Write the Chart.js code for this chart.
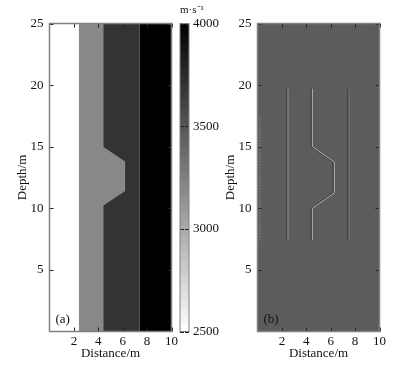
<!DOCTYPE html>
<html>
<head>
<meta charset="utf-8">
<script src="https://cdn.jsdelivr.net/npm/chart.js@4.4.0/dist/chart.umd.min.js"></script>
<style>
  body { margin: 0; background: #fff; }
  #wrap { position: relative; width: 396px; height: 365px; }
  canvas { position: absolute; top: 0; }
</style>
</head>
<body>
<div id="wrap">
  <canvas id="modelChart" width="180" height="365" style="left:0px"></canvas>
  <canvas id="colorBar" width="60" height="365" style="left:175px"></canvas>
  <canvas id="imageChart" width="180" height="365" style="left:208px"></canvas>
</div>
<script>
// axis ticks
const distTicks = [2, 4, 6, 8, 10];
const depthTicks = [5, 10, 15, 20, 25];
const velTicks = [2500, 3000, 3500, 4000];
const depthMax = 25;
const distMax = 10;

// (a) velocity model, vertical layers
const layerEdges = [0, 2.4, 4.4, 7.4, 10];
const layerVel = [2500, 3200, 3700, 4000];
// bulge of the 2nd layer into the 3rd
const bumpX = [4.4, 6.2, 6.2, 4.4];
const bumpDepth = [10.2, 11.4, 13.8, 15];

// (b) imaged edges
const edgeX = [2.5, 4.5, 7.5];
const edgeAmp = [0.33, 0.5, 0.16];
const edgeDepth = [7.4, 19.7];   // bottom, top
const edgeBumpX = [4.5, 6.3, 6.3, 4.5];
const edgeBumpDepth = [10, 11.25, 13.75, 15];
const sideX = 0.2;
const sideDepth = [7.4, 17.4];
const sideAmp = 0.35;

const velMin = velTicks[0], velMax = velTicks[velTicks.length - 1];
function velToGrey(v) {
  const g = Math.round(255 * (1 - (v - velMin) / (velMax - velMin)));
  return `rgb(${g},${g},${g})`;
}
function ampToGrey(a) {
  const g = Math.round(92 + a * (255 - 92));
  return `rgb(${g},${g},${g})`;
}

Chart.defaults.font.family = '"Liberation Serif", "Times New Roman", serif';
Chart.defaults.font.size = 13;
Chart.defaults.color = '#111';

// frame + inward ticks + panel tag
const frame = {
  id: 'frame',
  afterDraw(chart, args, opts) {
    const {ctx, chartArea: a, scales} = chart;
    ctx.save();
    ctx.strokeStyle = '#222';
    ctx.lineWidth = 1;
    const len = opts.tickLen || 4;
    ctx.beginPath();
    if (opts.ticksX !== false) {
      scales.x.ticks.forEach(t => {
        const px = Math.round(scales.x.getPixelForValue(t.value)) + 0.5;
        ctx.moveTo(px, a.bottom); ctx.lineTo(px, a.bottom - len);
        ctx.moveTo(px, a.top); ctx.lineTo(px, a.top + len);
      });
    }
    scales.y.ticks.forEach(t => {
      const py = Math.round(scales.y.getPixelForValue(t.value)) + 0.5;
      ctx.moveTo(a.left, py); ctx.lineTo(a.left + len, py);
      ctx.moveTo(a.right, py); ctx.lineTo(a.right - len, py);
    });
    ctx.stroke();
    ctx.strokeStyle = '#808080';
    ctx.lineWidth = opts.frameWidth || 1.5;
    ctx.strokeRect(a.left, a.top, a.width, a.height);
    if (opts.label) {
      ctx.fillStyle = '#111';
      ctx.font = '13px "Liberation Serif", serif';
      ctx.textBaseline = 'middle';
      ctx.fillText(opts.label, a.left + 6, a.bottom - 11.5);
    }
    ctx.restore();
  }
};

// dark side lobe next to the imaged edges
const sideLobe = {
  id: 'sideLobe',
  beforeDatasetDraw(chart, args) {
    if (!args.meta._dataset.lobe) return;
    chart.ctx.save();
    chart.ctx.shadowColor = 'rgba(45,45,45,0.8)';
    chart.ctx.shadowOffsetX = -1.2;
    chart.ctx.shadowBlur = 0;
  },
  afterDatasetDraw(chart, args) {
    if (!args.meta._dataset.lobe) return;
    chart.ctx.restore();
  }
};

function panelOptions(tag) {
  return {
    responsive: false,
    animation: false,
    devicePixelRatio: 1,
    layout: { padding: { top: 23.5, right: 7.5 } },
    plugins: {
      legend: { display: false },
      tooltip: { enabled: false },
      frame: { label: tag }
    },
    scales: {
      x: {
        type: 'linear', min: 0, max: distMax,
        afterBuildTicks: s => { s.ticks = distTicks.map(v => ({ value: v })); },
        afterFit: s => { s.height = 33.5; },
        grid: { display: false, drawTicks: false },
        border: { display: false },
        ticks: { padding: 2, maxRotation: 0, autoSkip: false, color: '#111', callback: v => String(v) },
        title: { display: true, text: 'Distance/m', color: '#111', padding: { top: 0, bottom: 4 } }
      },
      y: {
        type: 'linear', min: 0, max: depthMax,
        afterBuildTicks: s => { s.ticks = depthTicks.map(v => ({ value: v })); },
        afterFit: s => { s.width = 49.5; },
        grid: { display: false, drawTicks: false },
        border: { display: false },
        ticks: { padding: 6, autoSkip: false, color: '#111', callback: v => String(v) },
        title: { display: true, text: 'Depth/m', color: '#111', padding: { top: 15, bottom: 0 } }
      }
    }
  };
}

function polygon(points, color, order) {
  return {
    data: points, showLine: true, fill: 'shape', pointRadius: 0,
    borderWidth: 0, backgroundColor: color, borderColor: color, order: order
  };
}

// (a) velocity model; the 2nd layer carries the bulge on its right side
// (higher order is painted first, so each layer sits on top of the next one)
const modelSets = layerVel.map((v, i) => {
  const right = [{ x: layerEdges[i + 1], y: 0 }];
  if (layerEdges[i + 1] === bumpX[0]) {
    bumpX.forEach((x, j) => right.push({ x: x, y: bumpDepth[j] }));
  }
  right.push({ x: layerEdges[i + 1], y: depthMax });
  return polygon([{ x: layerEdges[i], y: 0 }].concat(right, [{ x: layerEdges[i], y: depthMax }]),
    velToGrey(v), i + 1);
});

new Chart(document.getElementById('modelChart'), {
  type: 'scatter',
  data: { datasets: modelSets },
  options: panelOptions('(a)'),
  plugins: [frame]
});

// colour bar
new Chart(document.getElementById('colorBar'), {
  type: 'bar',
  data: {
    labels: [''],
    datasets: [{
      data: [[velMin, velMax]],
      barPercentage: 1, categoryPercentage: 1, borderWidth: 0,
      backgroundColor: c => {
        const {ctx, chartArea, scales} = c.chart;
        if (!chartArea) return '#888';
        const g = ctx.createLinearGradient(0, scales.y.getPixelForValue(velMin), 0, scales.y.getPixelForValue(velMax));
        g.addColorStop(0, velToGrey(velMin));
        g.addColorStop(1, velToGrey(velMax));
        return g;
      }
    }]
  },
  options: {
    responsive: false,
    animation: false,
    devicePixelRatio: 1,
    layout: { padding: { left: 5, right: 0, bottom: 33.5 } },
    plugins: {
      legend: { display: false },
      tooltip: { enabled: false },
      title: { display: true, text: 'm·s⁻¹', align: 'start', color: '#111', font: { size: 11, weight: 'normal' }, padding: { top: 4, bottom: 6.3 } },
      frame: { ticksX: false, frameWidth: 1 }
    },
    scales: {
      x: { display: false },
      y: {
        position: 'right', min: velMin, max: velMax,
        afterBuildTicks: s => { s.ticks = velTicks.map(v => ({ value: v })); },
        afterFit: s => { s.width = 46; },
        grid: { display: false, drawTicks: false },
        border: { display: false },
        ticks: { padding: 4, autoSkip: false, color: '#111', callback: v => String(v) }
      }
    }
  },
  plugins: [frame]
});

// (b) image
const imageSets = [polygon([
  { x: 0, y: 0 }, { x: distMax, y: 0 }, { x: distMax, y: depthMax }, { x: 0, y: depthMax }
], ampToGrey(0), 9)];
edgeX.forEach((x, i) => {
  let pts = [{ x: x, y: edgeDepth[0] }];
  if (x === edgeBumpX[0]) pts = pts.concat(edgeBumpX.map((bx, j) => ({ x: bx, y: edgeBumpDepth[j] })));
  pts.push({ x: x, y: edgeDepth[1] });
  imageSets.push({
    data: pts, showLine: true, fill: false, pointRadius: 0,
    borderWidth: 1, borderColor: ampToGrey(edgeAmp[i]), order: 2, lobe: true
  });
});
imageSets.push({
  data: sideDepth.map(d => ({ x: sideX, y: d })), showLine: true, fill: false, pointRadius: 0,
  borderWidth: 1, borderDash: [1, 2], borderColor: ampToGrey(sideAmp), order: 2
});

new Chart(document.getElementById('imageChart'), {
  type: 'scatter',
  data: { datasets: imageSets },
  options: panelOptions('(b)'),
  plugins: [frame, sideLobe]
});
</script>
</body>
</html>
